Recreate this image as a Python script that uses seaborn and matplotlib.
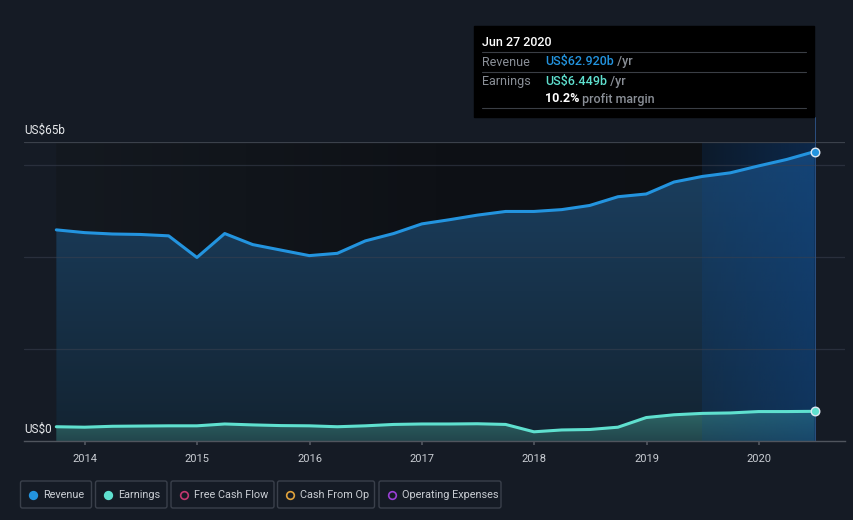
import numpy as np
import pandas as pd
import matplotlib.pyplot as plt
import seaborn as sns
from matplotlib.colors import LinearSegmentedColormap, to_rgb
from matplotlib.patches import FancyBboxPatch, Rectangle

# Quarterly trailing-twelve-month figures (US$ billions)
period_ends = pd.date_range("2013-09-30", "2020-06-30", freq="QE")
revenue = [45.9, 45.3, 45.0, 44.9, 44.6, 39.9, 45.1, 42.7, 41.5, 40.3,
           40.8, 43.5, 45.1, 47.2, 48.1, 49.1, 49.9, 49.9, 50.3, 51.2,
           53.1, 53.7, 56.3, 57.5, 58.3, 59.8, 61.2, 62.92]
earnings = [3.1, 3.0, 3.2, 3.25, 3.3, 3.3, 3.7, 3.5, 3.35, 3.3,
            3.1, 3.3, 3.6, 3.7, 3.7, 3.75, 3.6, 2.0, 2.4, 2.5,
            3.0, 5.1, 5.7, 6.0, 6.1, 6.4, 6.4, 6.449]
year_ticks = [2014, 2015, 2016, 2017, 2018, 2019, 2020]
legend_items = ["Revenue", "Earnings", "Free Cash Flow", "Cash From Op", "Operating Expenses"]
legend_colors = ["#2394df", "#5fe0cf", "#c2386f", "#e0a23c", "#9a3fd6"]

BG = "#151b25"
REV_C = "#2394df"
EARN_C = "#5fe0cf"

sns.set_theme(style="dark", rc={"axes.facecolor": BG, "figure.facecolor": BG})
plt.rcParams["font.family"] = ["Roboto", "DejaVu Sans"]

t = period_ends.year + (period_ends.dayofyear - 1) / 365.25
df = pd.DataFrame({"t": t, "revenue": revenue, "earnings": earnings})
t0, t1 = df.t.iloc[0], df.t.iloc[-1]

fig = plt.figure(figsize=(8.54, 5.2), dpi=100)
ax = fig.add_axes([24 / 854, 79 / 520, 821 / 854, 299 / 520])
ax.set_facecolor(BG)


def gradient_fill(y, top, bottom, z, ytop=65):
    # fill under a series with a vertical colour gradient
    poly = ax.fill_between(df.t, 0, y, facecolor="none", lw=0)
    cmap = LinearSegmentedColormap.from_list("g", [bottom, top])
    im = ax.imshow(np.linspace(1, 0, 256).reshape(-1, 1), cmap=cmap, aspect="auto",
                   extent=(t0, t1, 0, ytop), origin="upper", zorder=z)
    im.set_clip_path(poly.get_paths()[0], transform=ax.transData)


# darker gradient behind the data span
shade = LinearSegmentedColormap.from_list("shade", ["#141920", "#0e1116", "#0d1014"])
ax.imshow(np.linspace(0, 1, 256).reshape(1, -1), cmap=shade, aspect="auto",
          extent=(t0, t1, 0, 65), zorder=0)

gradient_fill(df.revenue, "#1b4163", "#132331", 1)
gradient_fill(df.earnings, "#2f6a6a", "#22464c", 1.2, ytop=7)

# highlighted last year, brighter towards the right
hl = np.zeros((1, 256, 4))
hl[..., :3] = to_rgb("#0b4a96")
hl[..., 3] = np.linspace(0.18, 0.42, 256)
ax.imshow(hl, aspect="auto", extent=(t1 - 1, t1, 0, 65), zorder=1.5)

for v in [20, 40, 60]:
    ax.axhline(v, color="#3a4150", lw=0.9, alpha=0.55, zorder=1.8)
ax.axhline(65, color="#3b414b", lw=0.9, zorder=1.8)

sns.lineplot(data=df, x="t", y="revenue", color=REV_C, lw=2.2, ax=ax, zorder=3)
sns.lineplot(data=df, x="t", y="earnings", color=EARN_C, lw=2.2, ax=ax, zorder=3)

ax.scatter(df.t.iloc[-1:], df.revenue.iloc[-1:], s=38, color=REV_C, edgecolor="#dfe8f2",
           linewidth=1, zorder=4)
ax.scatter(df.t.iloc[-1:], df.earnings.iloc[-1:], s=38, color=EARN_C, edgecolor="#dfe8f2",
           linewidth=1, zorder=4)
ax.axvline(t1, ymin=0, ymax=1.084, color="#2b4f80", lw=0.7, clip_on=False, zorder=2)

ax.set_xlim(2013.457, 2020.766)
ax.set_ylim(0, 65)
ax.set_xticks(year_ticks)
ax.set_xticklabels([str(y) for y in year_ticks], color="#c9cdd3", fontsize=8)
ax.tick_params(axis="x", length=3, color="#50555e", pad=6, bottom=True)
ax.set_yticks([])
ax.set_xlabel("")
ax.set_ylabel("")
for side in ["top", "right", "left"]:
    ax.spines[side].set_visible(False)
ax.spines["bottom"].set_color("#50555e")
ax.spines["bottom"].set_linewidth(1)

ax.annotate("US$65b", xy=(0, 65), xycoords=("axes fraction", "data"), xytext=(0, 4),
            textcoords="offset points", va="bottom", color="#e6e8eb", fontsize=8.5)
ax.annotate("US$0", xy=(0, 0), xycoords=("axes fraction", "data"), xytext=(0, 3.5),
            textcoords="offset points", va="bottom", color="#e6e8eb", fontsize=8.5)

# overlay in pixel coordinates for tooltip and legend
ov = fig.add_axes([0, 0, 1, 1], facecolor="none")
ov.set_xlim(0, 854)
ov.set_ylim(520, 0)
ov.axis("off")

ov.add_patch(Rectangle((474, 26), 340, 91, color="black", zorder=1))
for yy in [52, 71.5, 108]:
    ov.plot([482, 806], [yy, yy], color="#3a3e45", lw=0.8, zorder=2)
ov.text(482, 43, "Jun 27 2020", color="white", fontsize=9, va="center", weight="medium")
ov.text(482, 62, "Revenue", color="#8a8f97", fontsize=9, va="center")
ov.text(482, 81, "Earnings", color="#8a8f97", fontsize=9, va="center")
tx = ov.text(545, 62, "US$62.920b", color=REV_C, fontsize=9, va="center", weight="medium")
ov.annotate(" /yr", xy=(1, 0.5), xycoords=tx, va="center", color="#8a8f97", fontsize=9,
            weight="medium")
tx = ov.text(545, 81, "US$6.449b", color=EARN_C, fontsize=9, va="center", weight="medium")
ov.annotate(" /yr", xy=(1, 0.5), xycoords=tx, va="center", color="#8a8f97", fontsize=9,
            weight="medium")
tx = ov.text(545, 99, "10.2%", color="white", fontsize=9, va="center", weight="bold")
ov.annotate(" profit margin", xy=(1, 0.5), xycoords=tx, va="center", color="#8a8f97",
            fontsize=9, weight="medium")

# legend buttons
boxes = [(20.5, 71), (95.5, 71.5), (171, 103), (277.5, 97), (379, 122)]
for (bx, bw), label, col, i in zip(boxes, legend_items, legend_colors, range(5)):
    ov.add_patch(FancyBboxPatch((bx, 481), bw, 27, boxstyle="round,pad=0,rounding_size=2",
                                facecolor="none", edgecolor="#3a404b", lw=1))
    filled = i < 2
    ov.plot(bx + 13, 494.5, "o", ms=5.5, color=col, mfc=col if filled else "none", mew=1.2)
    ov.text(bx + 23, 494.5, label, color="#c9cdd3", fontsize=7.8, va="center")

fig.savefig("out.png", dpi=100, facecolor=BG)
